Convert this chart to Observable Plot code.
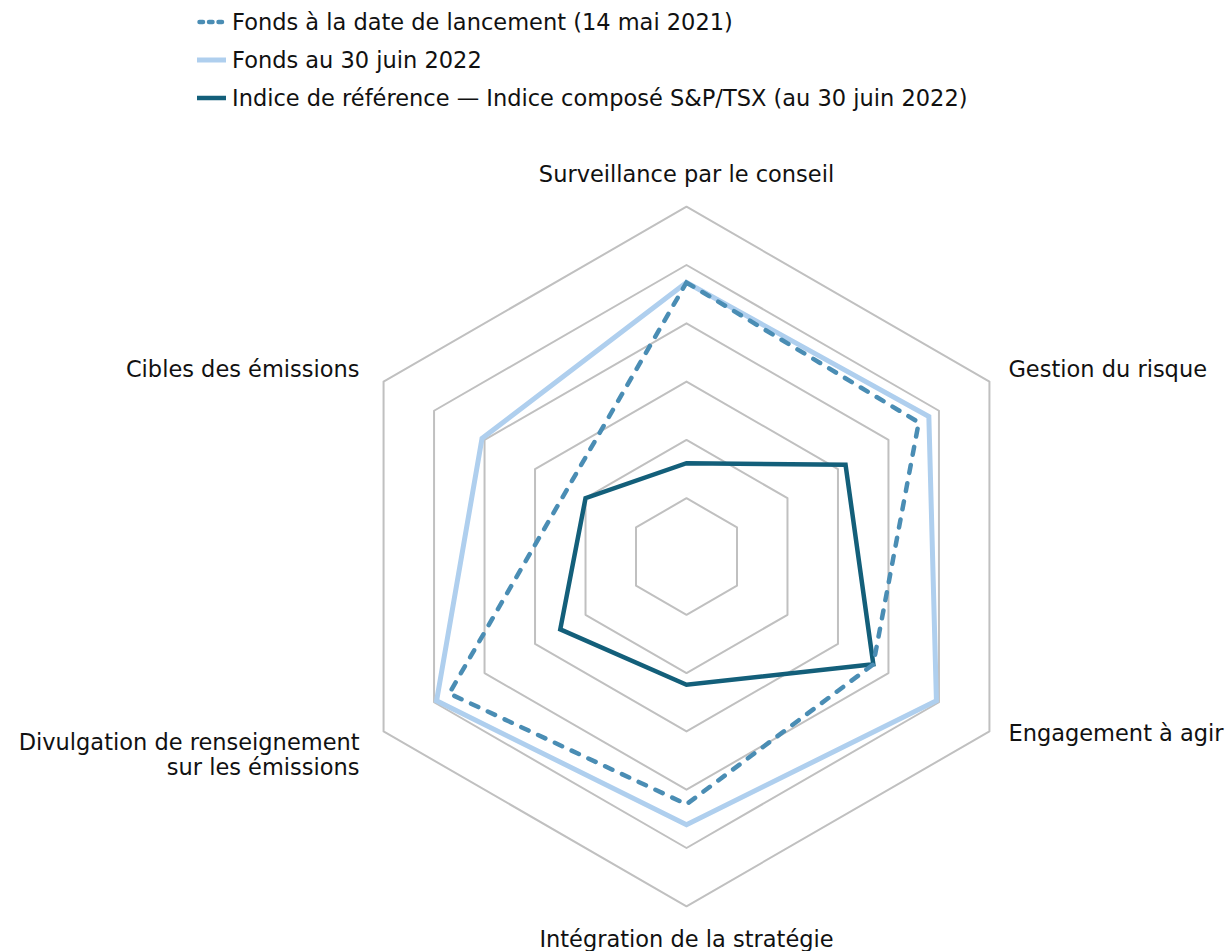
<!DOCTYPE html>
<html><head><meta charset="utf-8">
<script src="https://cdn.jsdelivr.net/npm/d3@7"></script>
<script src="https://cdn.jsdelivr.net/npm/@observablehq/plot@0.6"></script>
<style>
html,body{margin:0;padding:0;background:#fff;}
body{font-family:"DejaVu Sans",sans-serif;width:1225px;}
#legend{position:relative;height:120px;width:1225px;}
.row{position:absolute;left:197px;height:38px;display:flex;align-items:center;font-size:22.5px;color:#111;white-space:nowrap;}
.row svg{margin-right:6px;display:block;}
#chart svg{display:block;}
</style></head><body>
<div id="legend"></div>
<div id="chart"></div>
<script>
// ---- data ----
const axes = [
  "Surveillance par le conseil",
  "Gestion du risque",
  "Engagement à agir",
  "Intégration de la stratégie",
  "Divulgation de renseignement\nsur les émissions",
  "Cibles des émissions"
];
const launch2021 = [4.7, 4.6, 3.7, 4.25, 4.7, 2.35];
const fund2022   = [4.7, 4.8, 4.95, 4.6, 4.95, 4.05];
const benchmark  = [1.6, 3.15, 3.7, 2.2, 2.5, 2.0];
const ringLevels = [1, 2, 3, 4, 5, 6];
const seriesNames = [
  "Fonds à la date de lancement (14 mai 2021)",
  "Fonds au 30 juin 2022",
  "Indice de référence — Indice composé S&P/TSX (au 30 juin 2022)"
];

// ---- layout / style ----
const W = 1225, H = 831, CX = 686, CY = 436, UNIT = 58.3;
const styles = [
  {stroke: "#4a8db4", strokeWidth: 4.5, dash: "8,10.5", cap: "round", legendDash: "3.5,6"},
  {stroke: "#afcfee", strokeWidth: 5, dash: null, cap: "butt"},
  {stroke: "#135f7a", strokeWidth: 4.5, dash: null, cap: "butt"}
];
const angle = i => i * Math.PI / 3;
const toXY = (v, i) => ({x: v * Math.sin(angle(i)), y: v * Math.cos(angle(i))});

const gridPts = ringLevels.flatMap(level => axes.map((a, i) => ({level, ...toXY(level, i)})));
const seriesVals = [launch2021, fund2022, benchmark];
const seriesPts = seriesVals.map((vals, s) => vals.map((v, i) => ({series: seriesNames[s], axis: axes[i], value: v, ...toXY(v, i)})));

const outer = d3.max(ringLevels);
const labelOffsets = [
  {dx: 0, dy: -33, anchor: "middle"},
  {dx: 19, dy: -13, anchor: "start"},
  {dx: 19, dy: 2, anchor: "start"},
  {dx: 0, dy: 33, anchor: "middle"},
  {dx: -24, dy: 23, anchor: "end"},
  {dx: -24, dy: -13, anchor: "end"}
];

function lineMark(pts, st) {
  const o = {x: "x", y: "y", curve: "linear-closed", stroke: st.stroke, strokeWidth: st.strokeWidth,
             strokeLinejoin: "miter", strokeMiterlimit: 10, strokeLinecap: st.cap};
  if (st.dash) o.strokeDasharray = st.dash;
  return Plot.line(pts, o);
}

const chart = Plot.plot({
  width: W, height: H,
  marginTop: 0, marginBottom: 0, marginLeft: 0, marginRight: 0,
  x: {domain: [-CX / UNIT, (W - CX) / UNIT], range: [0, W]},
  y: {domain: [-(H - CY) / UNIT, CY / UNIT], range: [H, 0]},
  axis: null,
  style: {fontFamily: "'DejaVu Sans', sans-serif", background: "#fff"},
  marks: [
    Plot.line(gridPts, {x: "x", y: "y", z: "level", curve: "linear-closed", stroke: "#c0c0c0", strokeWidth: 2}),
    lineMark(seriesPts[1], styles[1]),
    lineMark(seriesPts[2], styles[2]),
    lineMark(seriesPts[0], styles[0]),
    ...axes.map((a, i) => Plot.text([{label: a, ...toXY(outer, i)}], {
      x: "x", y: "y", text: "label",
      dx: labelOffsets[i].dx, dy: labelOffsets[i].dy,
      textAnchor: labelOffsets[i].anchor, lineAnchor: "middle", lineHeight: 1.1,
      fontSize: 22.5, fill: "#111"
    }))
  ]
});
document.getElementById("chart").appendChild(chart);

// ---- legend ----
const legend = document.getElementById("legend");
seriesNames.forEach((name, s) => {
  const st = styles[s];
  const row = document.createElement("div");
  row.className = "row";
  row.style.top = (3 + s * 38) + "px";
  const dash = st.legendDash ? `stroke-dasharray="${st.legendDash}"` : "";
  row.innerHTML = `<svg width="29" height="10"><line x1="${st.dash ? 2.5 : 0}" y1="5" x2="${st.dash ? 26.5 : 29}" y2="5" stroke="${st.stroke}" stroke-width="${st.strokeWidth}" stroke-linecap="${st.cap}" ${dash}/></svg><span></span>`;
  row.querySelector("span").textContent = name;
  legend.appendChild(row);
});
</script>
</body></html>
